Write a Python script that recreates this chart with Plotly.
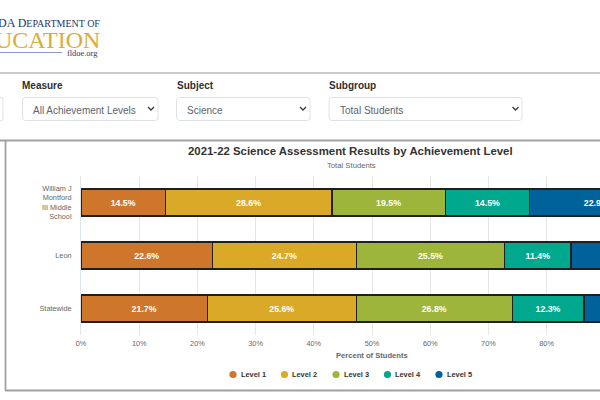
import plotly.graph_objects as go

regions = ["William J<br>Montford<br>III Middle<br>School", "Leon", "Statewide"]
levels = ["Level 1", "Level 2", "Level 3", "Level 4", "Level 5"]
level1 = [14.5, 22.6, 21.7]
level2 = [28.6, 24.7, 25.6]
level3 = [19.5, 25.5, 26.8]
level4 = [14.5, 11.4, 12.3]
level5 = [22.9, 15.8, 13.6]
series = [level1, level2, level3, level4, level5]
colors = ["#CE762B", "#DBA928", "#9EB53B", "#00A88D", "#00629B"]
x_ticks = [0, 10, 20, 30, 40, 50, 60, 70, 80]

W, H = 600, 400
FONT = "Liberation Sans, Arial, sans-serif"
SERIF = "Liberation Serif, Times New Roman, serif"


def px(x):
    return x / W


def py(y):
    return 1 - y / H


def note(text, x, y, size, color, anchor="left", font=FONT):
    return dict(text=text, x=px(x), y=py(y), xref="paper", yref="paper",
                xanchor=anchor, yanchor="middle", showarrow=False,
                font=dict(family=font, size=size, color=color))


def pline(x0, y0, x1, y1, color, width):
    return dict(type="line", xref="paper", yref="paper", x0=px(x0), y0=py(y0),
                x1=px(x1), y1=py(y1), line=dict(color=color, width=width), layer="below")


def round_box(x0, y0, x1, y1, r=3):
    p = (f"M{px(x0 + r)},{py(y0)} L{px(x1 - r)},{py(y0)} Q{px(x1)},{py(y0)} {px(x1)},{py(y0 + r)} "
         f"L{px(x1)},{py(y1 - r)} Q{px(x1)},{py(y1)} {px(x1 - r)},{py(y1)} "
         f"L{px(x0 + r)},{py(y1)} Q{px(x0)},{py(y1)} {px(x0)},{py(y1 - r)} "
         f"L{px(x0)},{py(y0 + r)} Q{px(x0)},{py(y0)} {px(x0 + r)},{py(y0)} Z")
    return dict(type="path", xref="paper", yref="paper", path=p,
                line=dict(color="#dee2e6", width=1), fillcolor="white", layer="below")


def chevron(cx, cy):
    p = f"M{px(cx - 3)},{py(cy - 1.5)} L{px(cx)},{py(cy + 1.5)} L{px(cx + 3)},{py(cy - 1.5)}"
    return dict(type="path", xref="paper", yref="paper", path=p,
                line=dict(color="#343a40", width=1.3), layer="below")


def dot(cx, cy, color, r=3.6):
    return dict(type="circle", xref="paper", yref="paper", x0=px(cx - r), x1=px(cx + r),
                y0=py(cy + r), y1=py(cy - r), fillcolor=color, line=dict(width=0))


fig = go.Figure()
for name, vals, col in zip(levels, series, colors):
    fig.add_trace(go.Bar(
        y=regions, x=vals, name=name, orientation="h", showlegend=False,
        marker=dict(color=col, line=dict(color="#1f1f1f", width=1.5)),
        text=[f"{v:.1f}%" for v in vals], textposition="inside",
        insidetextanchor="middle", textangle=0, cliponaxis=True,
        textfont=dict(family=FONT, size=8.8, color="white", weight="bold"),
        hoverinfo="skip",
    ))

shapes = [
    pline(0, 73, 600, 73, "#9a9a9a", 1.2),
    pline(0, 140.5, 600, 140.5, "#a0a0a0", 1.8),
    pline(5.5, 140, 5.5, 390.5, "#a0a0a0", 1.8),
    pline(5, 390.5, 600, 390.5, "#a0a0a0", 1.8),
    pline(0, 52.5, 62, 52.5, "#8f9bc8", 1),
    round_box(-6, 97, 3, 121),
    round_box(22.5, 97.5, 158, 120.5),
    round_box(176.5, 97.5, 310, 120.5),
    round_box(329, 97.5, 522, 120.5),
    chevron(151, 108.5),
    chevron(303, 108.5),
    chevron(515.5, 108.5),
]

annotations = [
    note('<span style="font-size:12px">DA D</span><span style="font-size:10px">EPARTMENT OF</span>',
         102, 23, 12, "#27346f", "right", SERIF),
    note("UCATION", 102, 40, 24, "#d9ad3c", "right", SERIF),
    note("fldoe.org", 100, 53, 8.4, "#27346f", "right", SERIF),
    note("<b>Measure</b>", 20, 85, 10, "#2f2f2f"),
    note("<b>Subject</b>", 175, 85, 10, "#2f2f2f"),
    note("<b>Subgroup</b>", 327, 85, 10, "#2f2f2f"),
    note("All Achievement Levels", 30.5, 110, 10, "#5a6470"),
    note("Science", 185, 110, 10, "#5a6470"),
    note("Total Students", 337.5, 110, 10, "#5a6470"),
    note("<b>2021-22 Science Assessment Results by Achievement Level</b>", 350.5, 150.5, 11.4, "#333333", "center"),
    note("Total Students", 351, 165, 7.7, "#666666", "center"),
    note("<b>Percent of Students</b>", 372, 355.5, 7.6, "#666666", "center"),
]

# legend row: marker followed by its label
legend_x = [233, 284.5, 336, 387.5, 439]
for name, col, lx in zip(levels, colors, legend_x):
    shapes.append(dot(lx, 374.5, col))
    annotations.append(note(f"<b>{name}</b>", lx + 5.5, 374.5, 7.4, "#333333"))

fig.update_layout(
    width=W, height=H, autosize=False,
    margin=dict(l=0, r=0, t=0, b=0, autoexpand=False),
    paper_bgcolor="white", plot_bgcolor="white",
    barmode="stack", bargap=0.49, showlegend=False,
    font=dict(family=FONT, color="#666666"),
    shapes=shapes, annotations=annotations,
    xaxis=dict(
        domain=[px(81), 1], range=[0, (600 - 81) / 5.82],
        tickmode="array", tickvals=x_ticks, ticktext=[f"{t}%" for t in x_ticks],
        showgrid=True, gridcolor="#e6e6e6", gridwidth=1, zeroline=False,
        tickfont=dict(size=7.3, color="#666666"), ticks="", showline=False,
        ticklabelstandoff=3,
    ),
    yaxis=dict(
        domain=[py(335), py(176)], autorange="reversed",
        tickfont=dict(size=7.3, color="#666666"), ticks="", ticklen=0, ticklabelstandoff=7,
        showline=True, linecolor="#dfe5f2", linewidth=1, showgrid=False,
    ),
    hovermode=False,
)

fig.write_html("out.html", config=dict(displayModeBar=False),
               post_script="document.body.style.margin='0';document.body.style.overflow='hidden';")
